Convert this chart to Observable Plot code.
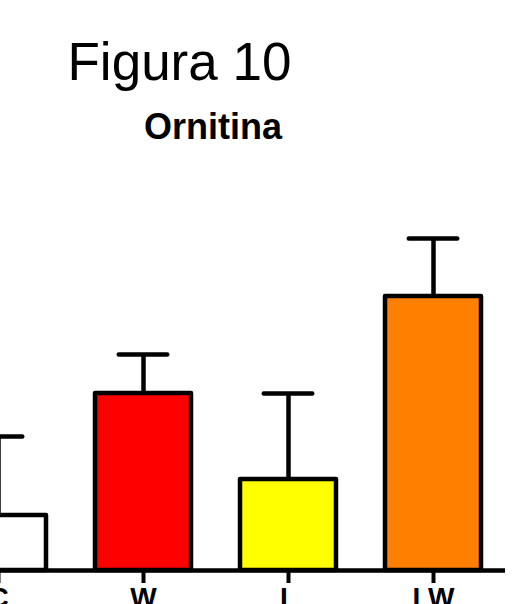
<!DOCTYPE html>
<html><head><meta charset="utf-8">
<script src="https://cdn.jsdelivr.net/npm/d3@7"></script>
<script src="https://cdn.jsdelivr.net/npm/@observablehq/plot@0.6"></script>
<style>
html,body{margin:0;padding:0;background:#fff;overflow:hidden}
#wrap{position:relative;width:513px;height:604px;overflow:hidden;background:#fff}
.t{position:absolute;font-family:"Liberation Sans",Arial,sans-serif;white-space:nowrap;color:#000}
#fig{left:67.5px;top:35px;font-size:53px;line-height:53px}
#sub{left:144px;top:109px;font-size:36px;line-height:36px;font-weight:bold}
#chart{position:absolute;left:0;top:0}
</style></head>
<body><div id="wrap"><div id="chart"></div><div class="t" id="fig"></div><div class="t" id="sub"></div></div>
<script>
const titleText = "Figura 10";
const subtitleText = "Ornitina";
const categories = ["C", "W", "L", "LW"];
const means = [0.55, 1.77, 0.91, 2.74];
const errors = [0.79, 0.39, 0.86, 0.58];
const colors = ["#ffffff", "#ff0000", "#ffff00", "#ff8000"];

document.getElementById("fig").textContent = titleText;
document.getElementById("sub").textContent = subtitleText;

const data = categories.map((c, i) => ({group: c, mean: means[i], upper: means[i] + errors[i], color: colors[i]}));

const chart = Plot.plot({
  width: 513, height: 604,
  marginLeft: 0, marginRight: 8, marginTop: 70, marginBottom: 34,
  style: {background: "transparent", fontFamily: "'Liberation Sans', Arial, sans-serif", color: "black"},
  x: {domain: categories, range: [-74.8, 505.2], paddingInner: 0.341, paddingOuter: 0.1705, label: null},
  y: {domain: [0, 5], axis: null},
  color: {type: "identity"},
  marks: [
    Plot.ruleX(data, {x: "group", y1: "mean", y2: "upper", stroke: "black", strokeWidth: 4.5}),
    Plot.tickY(data, {x: "group", y: "upper", stroke: "black", strokeWidth: 4.5, strokeLinecap: "round", insetLeft: 23.75, insetRight: 23.75}),
    Plot.barY(data, {x: "group", y: "mean", fill: "color", stroke: "black", strokeWidth: 4.5, strokeLinejoin: "round"}),
    Plot.ruleY([0], {stroke: "black", strokeWidth: 4.5}),
    Plot.axisX({tickSize: 13, tickPadding: 4, strokeWidth: 4, fontSize: 28, fontWeight: "bold", label: null, color: "black"})
  ]
});
document.getElementById("chart").appendChild(chart);
</script>
</body></html>
